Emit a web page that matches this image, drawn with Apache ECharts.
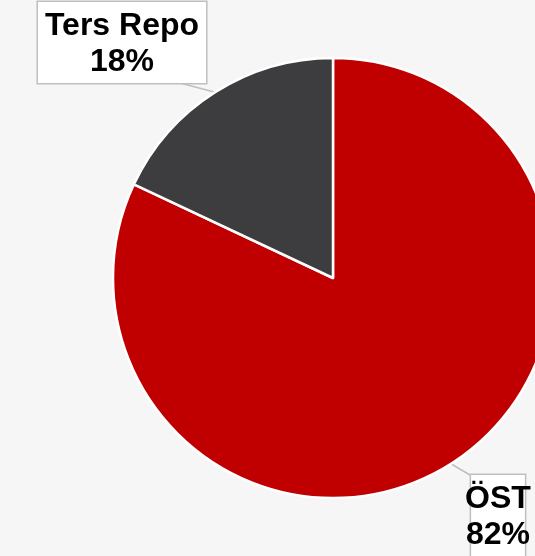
<!DOCTYPE html>
<html>
<head>
<meta charset="utf-8">
<script src="https://cdn.jsdelivr.net/npm/echarts@6/dist/echarts.min.js"></script>
<style>
  html, body { margin: 0; padding: 0; background: #f6f6f6; }
  #main { width: 535px; height: 556px; }
</style>
</head>
<body>
<div id="main"></div>
<script>
// slice data, clockwise from 12 o'clock
var names = ['ÖST', 'Ters Repo']
var values = [82, 18]
var colors = ['#c00000', '#3d3c3e']

// label box placement (top-center of box) and where the leader line meets it
var labelPos = [
  { x: 498, y: 475, lx: -28, ly: 0 },
  { x: 122, y: 2, lx: 58, ly: 81 }
]

var chart = echarts.init(document.getElementById('main'))

var option = {
  backgroundColor: '#f6f6f6',
  animation: false,
  series: [
    {
      type: 'pie',
      center: [333, 278],
      radius: 220,
      startAngle: 90,
      clockwise: true,
      itemStyle: {
        borderColor: '#ffffff',
        borderWidth: 2.5
      },
      label: {
        show: true,
        position: 'outside',
        overflow: 'none',
        formatter: function (p) {
          return p.name + '\n' + Math.round(p.percent) + '%'
        },
        fontFamily: '"Liberation Sans", Arial, sans-serif',
        fontWeight: 'bold',
        fontSize: 32,
        lineHeight: 36,
        color: '#000000',
        backgroundColor: '#ffffff',
        borderColor: '#bfbfbf',
        borderWidth: 1.5,
        padding: [6, 7, 3, 7]
      },
      labelLine: {
        show: true,
        length: 10,
        length2: 10,
        lineStyle: { color: '#bfbfbf', width: 1.5 }
      },
      labelLayout: function (params) {
        var p = labelPos[params.dataIndex]
        var start = params.labelLinePoints[0]
        var end = [p.x + p.lx, p.y + p.ly]
        return {
          x: p.x, y: p.y, align: 'center', verticalAlign: 'top',
          labelLinePoints: [start, start, end]
        }
      },
      data: names.map(function (n, i) {
        return { name: n, value: values[i], itemStyle: { color: colors[i] } }
      })
    }
  ]
}

chart.setOption(option)
</script>
</body>
</html>
